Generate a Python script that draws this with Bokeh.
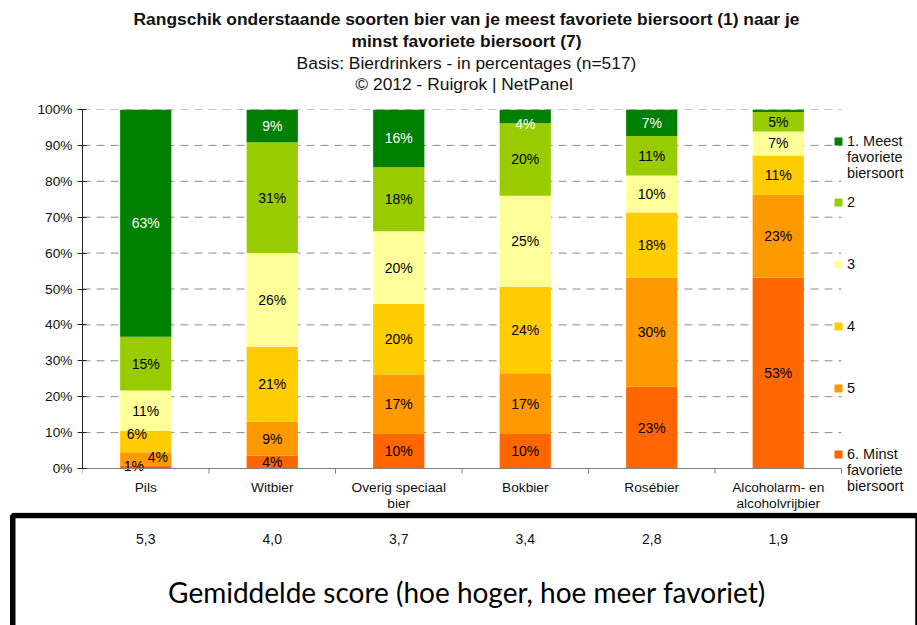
from bokeh.plotting import figure
from bokeh.models import (ColumnDataSource, Range1d, FixedTicker, PrintfTickFormatter,
                          LinearAxis, Legend, LegendItem, BoxAnnotation)
from bokeh.core.properties import value
from bokeh.embed import file_html
from bokeh.resources import INLINE

# ---------------- data ----------------
categories = ["Pils", "Witbier", "Overig speciaal bier", "Bokbier", "Rosébier",
              "Alcoholarm- en alcoholvrijbier"]
category_labels = ["Pils", "Witbier", "Overig speciaal\nbier", "Bokbier", "Rosébier",
                   "Alcoholarm- en\nalcoholvrijbier"]
levels = ["1. Meest\nfavoriete\nbiersoort", "2", "3", "4", "5", "6. Minst\nfavoriete\nbiersoort"]
rank1 = [63.3, 9.1, 16.1, 3.8, 7.4, 0.7]
rank2 = [15.0, 30.9, 17.8, 20.2, 11.0, 5.4]
rank3 = [11.2, 26.1, 20.3, 25.4, 10.3, 6.7]
rank4 = [6.0, 20.9, 19.6, 24.1, 18.1, 10.9]
rank5 = [3.7, 9.4, 16.6, 16.9, 30.4, 23.1]
rank6 = [0.8, 3.6, 9.6, 9.6, 22.8, 53.2]
avg_scores = [5.3, 4.0, 3.7, 3.4, 2.8, 1.9]
y_ticks = list(range(0, 101, 10))

title_lines = ["Rangschik onderstaande soorten bier van je meest favoriete biersoort (1) naar je",
               "minst favoriete biersoort (7)",
               "Basis: Bierdrinkers - in percentages (n=517)",
               "©  2012 - Ruigrok | NetPanel"]
score_title = "Gemiddelde score (hoe hoger, hoe meer favoriet)"

# ---------------- style / geometry (pixels) ----------------
colors = ["#008000", "#99CC00", "#FFFF99", "#FFCC00", "#FF9900", "#FF6600"]
label_colors = ["white", "black", "black", "black", "black", "black"]
FONT = "Liberation Sans"
hidden_labels = {(5, 0)}                      # (category index, rank index) not labelled
label_nudge = {(0, 5): (-12, -1), (0, 4): (12, -2), (0, 3): (-9, -8), (3, 0): (0, 8)}

W = 917
HEAD_H, CHART_H, BOX_H = 100, 412, 113
FRAME_L, FRAME_T = 82, 9                      # chart frame offsets inside the chart figure
AXIS_Y = 468 - HEAD_H                         # x-axis line, px from chart-figure top
N = len(categories)
UNIT_X = 126.5                                # px per category
UNIT_Y = (AXIS_Y - FRAME_T) / 100.0           # px per percent
BELOW = (CHART_H - AXIS_Y) / UNIT_Y           # percent units below the axis line
px = lambda v: v / UNIT_Y                     # px -> percent units

series = [rank1, rank2, rank3, rank4, rank5, rank6]
stack_order = list(range(5, -1, -1))          # rank 6 at the bottom
xs = [i + 0.5 for i in range(N)]

# ================= header =================
h = figure(width=W, height=HEAD_H, x_range=Range1d(0, W), y_range=Range1d(HEAD_H, 0),
           output_backend="svg", toolbar_location=None, x_axis_type=None, y_axis_type=None,
           min_border=0)
h.outline_line_color = None
h.xgrid.visible = False
h.ygrid.visible = False
h.text(x=[466] * 4, y=[18, 40, 62, 83], text=title_lines,
       text_font_style=["bold", "bold", "normal", "normal"],
       text_align="center", text_baseline="middle", text_font=value(FONT),
       text_font_size="17.4px", text_color="#111111")

# ================= chart =================
src = ColumnDataSource({"x": xs, **{f"r{k}": series[k] for k in range(6)}})
p = figure(width=W, height=CHART_H, x_range=Range1d(0, (W - FRAME_L) / UNIT_X),
           y_range=Range1d(-BELOW, 100),
           output_backend="svg", toolbar_location=None, title=None,
           x_axis_type=None, y_axis_type=None,
           min_border_left=FRAME_L, min_border_right=0, min_border_top=FRAME_T, min_border_bottom=0)
p.outline_line_color = None
p.xgrid.visible = False
p.ygrid.visible = False

# dashed gridlines across the category area
grid_y = y_ticks[1:]
g = p.segment(x0=[0] * len(grid_y), x1=[N] * len(grid_y), y0=grid_y, y1=grid_y,
              line_color="#8c8c8c", line_width=1, line_dash="8 6")
g.level = "underlay"

renderers = p.vbar_stack([f"r{k}" for k in stack_order], x="x", width=0.405, source=src,
                         color=[colors[k] for k in stack_order], line_color=None)

# segment labels
lx, ly, lt, lc, lxo, lyo = [], [], [], [], [], []
for i in range(N):
    base = 0.0
    for k in stack_order:
        v = series[k][i]
        if (i, k) not in hidden_labels:
            dx, dy = label_nudge.get((i, k), (0, 0))
            lx.append(xs[i]); ly.append(base + v / 2); lt.append(f"{round(v)}%")
            lc.append(label_colors[k]); lxo.append(dx); lyo.append(dy)
        base += v
lab_src = ColumnDataSource(dict(x=lx, y=ly, t=lt, c=lc, xo=lxo, yo=lyo))
p.text(x="x", y="y", text="t", text_color="c", x_offset="xo", y_offset="yo", source=lab_src,
       text_align="center", text_baseline="middle", text_font=value(FONT), text_font_size="14px")

# category axis: line, boundary ticks and labels
bounds = list(range(N + 1))
p.segment(x0=[0], x1=[N], y0=[0], y1=[0], line_color="#808080", line_width=1)
p.segment(x0=bounds, x1=bounds, y0=[0] * len(bounds), y1=[-px(5)] * len(bounds),
          line_color="#808080", line_width=1)
p.text(x=xs, y=[-px(11)] * N, text=category_labels, text_align="center", text_baseline="top",
       text_font=value(FONT), text_font_size="13.7px", text_line_height=1.12, text_color="#111111")

# value axis
yaxis = LinearAxis(ticker=FixedTicker(ticks=y_ticks), formatter=PrintfTickFormatter(format="%d%%"),
                   bounds=(0, 100))
yaxis.axis_line_color = "#222222"
yaxis.major_tick_line_color = "#222222"
yaxis.major_tick_in = 4
yaxis.major_tick_out = 5
yaxis.minor_tick_line_color = None
yaxis.major_label_standoff = 5
yaxis.major_label_text_font = FONT
yaxis.major_label_text_font_size = "13.7px"
yaxis.major_label_text_color = "#111111"
p.add_layout(yaxis, "left")

# legend: three blocks so each swatch sits beside the first line of its label
LEG_X = 833 - FRAME_L
frame_bottom = CHART_H - FRAME_T               # frame height in px
def leg_block(ks, top_px, label_height, spacing):
    items = []
    for k in ks:
        lab = levels[k]
        if "\n" in lab:
            lab = "\n\n" + lab
        items.append(LegendItem(label=lab, renderers=[renderers[stack_order.index(k)]]))
    if len(ks) == 1 and "\n" in levels[ks[0]]:
        height = 5 * 14.5 * 1.15
    else:
        height = len(ks) * label_height + (len(ks) - 1) * spacing
    vy = frame_bottom - (top_px - HEAD_H - FRAME_T) - height
    return Legend(items=items, location=(LEG_X, vy), orientation="vertical",
                  glyph_width=10, glyph_height=10, label_standoff=4, spacing=spacing,
                  label_height=label_height, padding=0, margin=0, border_line_color=None,
                  background_fill_alpha=0, label_text_font=FONT, label_text_font_size="14.5px",
                  label_text_line_height=1.15, label_text_color="#111111")

p.add_layout(leg_block([0], 139 - 41.7, 20, 0), "center")
p.add_layout(leg_block([1, 2, 3, 4], 202 - 25, 50, 12), "center")
p.add_layout(leg_block([5], 452 - 41.7, 20, 0), "center")

# ================= bottom box with average scores =================
q = figure(width=W, height=BOX_H, x_range=Range1d(-FRAME_L / UNIT_X, (W - FRAME_L) / UNIT_X),
           y_range=Range1d(BOX_H, 0),
           output_backend="svg", toolbar_location=None, title=None,
           x_axis_type=None, y_axis_type=None, min_border=0)
q.xgrid.visible = False
q.ygrid.visible = False
q.outline_line_color = None
q.add_layout(BoxAnnotation(left=(12.25 - FRAME_L) / UNIT_X, right=(917.5 - FRAME_L) / UNIT_X,
                           top=3, bottom=BOX_H + 10, fill_alpha=0, line_color="black",
                           line_alpha=1, line_width=5.5, level="underlay"))
score_src = ColumnDataSource(dict(x=xs, y=[538 - 512] * N,
                                  t=[f"{s:.1f}".replace(".", ",") for s in avg_scores]))
q.text(x="x", y="y", text="t", source=score_src, text_align="center", text_baseline="middle",
       text_font=value(FONT), text_font_size="14px", text_color="#111111")
q.text(x=[N / 2 + 5 / UNIT_X], y=[591 - 512], text=[score_title],
       text_align="center", text_baseline="middle",
       text_font=value("Lato"), text_font_size="28px", text_color="black")

open("out.html", "w").write(file_html([h, p, q], INLINE))
